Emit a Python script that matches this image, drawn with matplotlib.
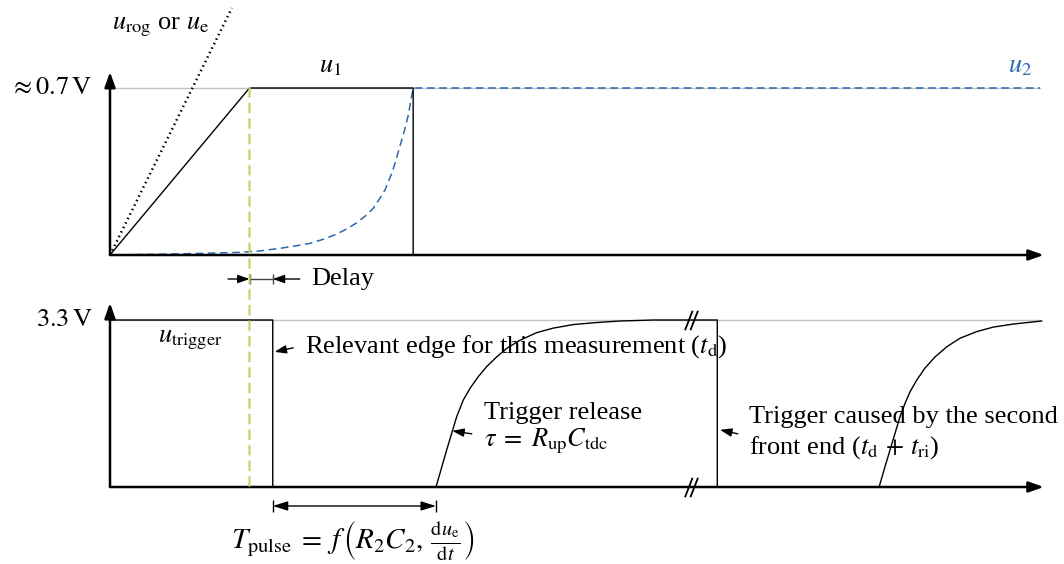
import matplotlib.pyplot as plt
from matplotlib.patches import ConnectionPatch
from matplotlib.path import Path

plt.rcParams['font.family'] = 'Liberation Serif'
plt.rcParams['mathtext.fontset'] = 'stix'
plt.rcParams['font.size'] = 19

# time in arbitrary units (0..100), voltages in V
u_level = 0.7
trig_level = 3.3

# u1: ramp up to the diode level, held, then reset
u1_t = [0, 15, 32.6, 32.6]
u1_v = [0, 0.7, 0.7, 0]

# u_rog / u_e (dotted, steeper than u1)
urog_t = [0, 13.1]
urog_v = [0, 1.035]

# u2: slow charge, then held
u2_t = [0, 5, 10, 13.98, 16.13, 18.28, 20.08, 21.51, 22.94, 24.38, 25.45, 26.53,
        27.60, 28.31, 29.03, 29.57, 29.92, 30.29, 30.65, 31.0, 31.37, 31.72,
        32.08, 32.33, 32.6, 100]
u2_v = [0, 0.003, 0.007, 0.011, 0.017, 0.028, 0.039, 0.049, 0.066, 0.088, 0.109,
        0.135, 0.168, 0.196, 0.238, 0.272, 0.307, 0.342, 0.384, 0.433, 0.482,
        0.531, 0.587, 0.643, 0.7, 0.7]

# trigger output: first pulse, release, second trigger, second release
trig_fall = 17.5
rel1_t = [35.05, 35.48, 35.84, 36.2, 36.74, 37.28, 37.99, 38.71, 39.6, 40.5,
          41.58, 42.66, 44.09, 45.88, 47.67, 49.82, 52.33, 54.84, 58.42]
rel1_v = [0, 0.27, 0.50, 0.73, 1.06, 1.39, 1.72, 1.95, 2.18, 2.38,
          2.57, 2.74, 2.90, 3.05, 3.14, 3.21, 3.25, 3.28, 3.3]
second_fall = 65.3
rel2_t = [82.7, 83.33, 83.87, 84.41, 84.95, 85.48, 86.02, 86.74, 87.63, 88.71,
          89.97, 91.40, 93.19, 94.98, 97.13, 100.18]
rel2_v = [0, 0.40, 0.73, 1.06, 1.39, 1.65, 1.88, 2.11, 2.35, 2.57,
          2.77, 2.94, 3.07, 3.16, 3.22, 3.28]
break_t = 62.5

trig_t = [0, trig_fall, trig_fall] + rel1_t + [second_fall, second_fall] + rel2_t
trig_v = [trig_level, trig_level, 0] + rel1_v + [trig_level, 0] + rel2_v

blue = '#2a68b0'
green = '#c8d26c'
grey = '#c4c4c4'

fig = plt.figure(figsize=(10.64, 5.64), dpi=100)
ax1 = fig.add_axes([110/1064, 309/564, 930/1064, 167/564])
ax2 = fig.add_axes([110/1064, 77/564, 930/1064, 167/564])
ax1.set_xlim(0, 100)
ax1.set_ylim(0, u_level)
ax2.set_xlim(0, 100)
ax2.set_ylim(0, trig_level)
for ax in (ax1, ax2):
    ax.axis('off')

axis_kw = dict(arrowstyle='-|>,head_length=0.9,head_width=0.32', lw=1.8,
               color='k', mutation_scale=10, shrinkA=0, shrinkB=0)


def draw_axes(ax, ytip):
    ax.annotate('', xy=(0, ytip), xytext=(0, 0), xycoords='axes fraction',
                arrowprops=axis_kw, annotation_clip=False, zorder=5)
    ax.annotate('', xy=(1.004, 0), xytext=(0, 0), xycoords='axes fraction',
                arrowprops=axis_kw, annotation_clip=False, zorder=5)


# ---- top: input voltages ----
ax1.plot([-0.5, 100], [u_level, u_level], color=grey, lw=1, clip_on=False)
ax1.plot(urog_t, urog_v, color='k', lw=1.8, ls=(0, (0.6, 1.4)), clip_on=False)
ax1.plot(u2_t, u2_v, color=blue, lw=1.1, ls=(0, (5, 3)), clip_on=False)
ax1.plot(u1_t, u1_v, color='k', lw=1.0, clip_on=False)
draw_axes(ax1, 1.096)

ax1.text(-1.9, u_level, r'$\approx 0.7\,\mathrm{V}$', ha='right', va='center')
ax1.text(5.4, 0.956, r'$u_\mathrm{rog}$ or $u_\mathrm{e}$', ha='center', va='center')
ax1.text(23.7, 0.79, r'$u_1$', ha='center', va='center')
ax1.text(97.8, 0.79, r'$u_2$', ha='center', va='center', color=blue)

# ---- bottom: trigger output ----
ax2.plot([-0.5, 100], [trig_level, trig_level], color=grey, lw=1, clip_on=False)
ax2.plot(trig_t, trig_v, color='k', lw=1.0, clip_on=False, solid_joinstyle='round')
draw_axes(ax2, 1.102)

# axis breaks
brk = Path([(-6, -9), (1, 9), (-1, -9), (6, 9)],
           [Path.MOVETO, Path.LINETO, Path.MOVETO, Path.LINETO])
ax2.plot([break_t, break_t], [0, trig_level], ls='none', marker=brk,
         markersize=14, markeredgecolor='k', markeredgewidth=1.3,
         clip_on=False, zorder=6)

ax2.text(-1.9, trig_level, r'$3.3\,\mathrm{V}$', ha='right', va='center')
ax2.text(8.6, 2.9, r'$u_\mathrm{trigger}$', ha='center', va='center')

# trigger threshold crossing shared by both plots
con = ConnectionPatch(xyA=(15, u_level), coordsA=ax1.transData,
                      xyB=(15, 0), coordsB=ax2.transData,
                      color=green, lw=1.6, ls=(0, (4, 3)), zorder=1)
fig.add_artist(con)

small = dict(arrowstyle='-|>,head_length=0.7,head_width=0.25', lw=1.0,
             color='k', mutation_scale=10, shrinkA=0, shrinkB=0)

# delay between threshold and trigger edge
delay_y = 4.11
ax2.plot([15, trig_fall], [delay_y, delay_y], color='#444444', lw=1.0, clip_on=False)
ax2.plot([15, trig_fall], [delay_y, delay_y], ls='none', marker='|', markersize=7,
         color='#444444', markeredgewidth=1.0, clip_on=False)
ax2.annotate('', xy=(15, delay_y), xytext=(12.7, delay_y), arrowprops=small,
             annotation_clip=False)
ax2.annotate('', xy=(trig_fall, delay_y), xytext=(20.4, delay_y), arrowprops=small,
             annotation_clip=False)
ax2.text(21.6, delay_y, 'Delay', ha='left', va='center')

# pulse width
pulse_y = -0.375
ax2.annotate('', xy=(35.05, pulse_y), xytext=(trig_fall, pulse_y),
             arrowprops=dict(arrowstyle='<|-|>,head_length=0.9,head_width=0.28',
                             lw=1.0, color='k', mutation_scale=10,
                             shrinkA=0, shrinkB=0),
             annotation_clip=False)
ax2.plot([trig_fall, 35.05], [pulse_y, pulse_y], ls='none', marker='|',
         markersize=9, color='k', markeredgewidth=1.0, clip_on=False)
ax2.text(26.1, -1.07,
         r'$T_\mathrm{pulse}\;=\;f\,\left(R_2C_2,\,\frac{\mathrm{d}u_\mathrm{e}}{\mathrm{d}t}\right)$',
         ha='center', va='center', fontsize=21)

# annotations
ax2.annotate('', xy=(17.7, 2.67), xytext=(19.7, 2.75), arrowprops=small,
             annotation_clip=False)
ax2.text(21.0, 2.77, r'Relevant edge for this measurement ($t_\mathrm{d}$)',
         ha='left', va='center')

ax2.annotate('', xy=(36.8, 1.11), xytext=(38.9, 1.05), arrowprops=small,
             annotation_clip=False)
ax2.text(40.2, 1.46, 'Trigger release', ha='left', va='center')
ax2.text(40.2, 0.91, r'$\tau\;=\;R_\mathrm{up}C_\mathrm{tdc}$', ha='left', va='center')

ax2.annotate('', xy=(65.6, 1.13), xytext=(67.5, 1.05), arrowprops=small,
             annotation_clip=False)
ax2.text(68.7, 1.38, 'Trigger caused by the second', ha='left', va='center')
ax2.text(68.7, 0.77, r'front end ($t_\mathrm{d}\,+\,t_\mathrm{ri}$)', ha='left', va='center')

fig.savefig('out.png', dpi=100)
